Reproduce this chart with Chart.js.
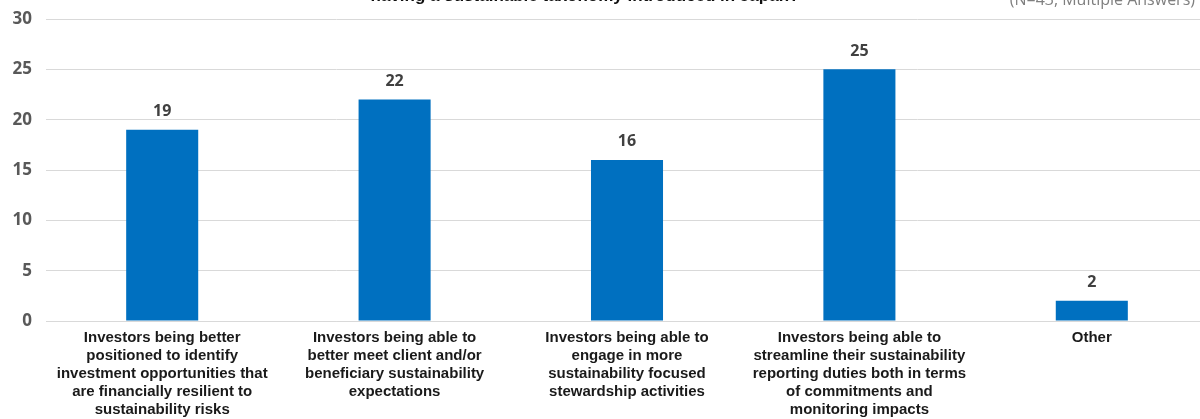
<!DOCTYPE html>
<html>
<head>
<meta charset="utf-8">
<script src="https://cdn.jsdelivr.net/npm/chart.js@4.4.1/dist/chart.umd.min.js"></script>
<style>
  html, body { margin: 0; padding: 0; background: #fff; overflow: hidden; }
  #wrap { position: relative; width: 1215px; height: 419px; }
</style>
</head>
<body>
<div id="wrap"><canvas id="canvas_chart01"></canvas></div>
<script>
const categories = [
    ['Investors being better', 'positioned to identify', 'investment opportunities that', 'are financially resilient to', 'sustainability risks'],
    ['Investors being able to', 'better meet client and/or', 'beneficiary sustainability', 'expectations'],
    ['Investors being able to', 'engage in more', 'sustainability focused', 'stewardship activities'],
    ['Investors being able to', 'streamline their sustainability', 'reporting duties both in terms', 'of commitments and', 'monitoring impacts'],
    ['Other']
];
const answers = [19, 22, 16, 25, 2];
const yTicks = [0, 5, 10, 15, 20, 25, 30];

const titleText = 'having a sustainable taxonomy introduced in Japan?';
const noteText = '(N=43, Multiple Answers)';

// value labels above bars + the title line / sample note at the top
const annotate = {
    id: 'annotate',
    afterDatasetsDraw(chart) {
        const ctx = chart.ctx;
        ctx.save();
        ctx.textAlign = 'center';
        ctx.textBaseline = 'bottom';
        ctx.fillStyle = '#404040';
        ctx.font = 'bold 16px "Open Sans"';
        chart.getDatasetMeta(0).data.forEach((bar, i) => {
            ctx.fillText(answers[i], bar.x, bar.y - 10);
        });

        ctx.fillStyle = '#111';
        ctx.font = 'bold 17px "Liberation Sans"';
        ctx.fillText(titleText, 585, 5);

        ctx.textAlign = 'right';
        ctx.fillStyle = '#7f7f7f';
        ctx.font = '16px "Open Sans"';
        ctx.fillText(noteText, 1195, 8);
        ctx.restore();
    }
};

new Chart(document.getElementById('canvas_chart01'), {
    type: 'bar',
    data: {
        labels: categories,
        datasets: [{
            data: answers,
            backgroundColor: '#0070C0',
            barPercentage: 1,
            categoryPercentage: 0.31
        }]
    },
    options: {
        responsive: true,
        maintainAspectRatio: false,
        animation: false,
        layout: { padding: { top: 19, right: 7, bottom: 0, left: 0 } },
        plugins: {
            legend: { display: false },
            tooltip: { enabled: false }
        },
        scales: {
            y: {
                min: 0,
                max: 30,
                afterFit: (scale) => {
                    scale.width = 46;
                    scale.paddingTop = 0;
                    scale.paddingBottom = 0;
                },
                afterBuildTicks: (scale) => { scale.ticks = yTicks.map(v => ({ value: v })); },
                grid: { color: '#d9d9d9', drawTicks: false },
                border: { display: false },
                ticks: {
                    padding: 14,
                    color: '#595959',
                    font: { family: 'Open Sans', size: 17, weight: 'bold' }
                }
            },
            x: {
                afterFit: (scale) => { scale.height = 98; },
                grid: { display: false, drawTicks: false },
                border: { color: '#d9d9d9', width: 1 },
                ticks: {
                    padding: 8,
                    maxRotation: 0,
                    autoSkip: false,
                    color: '#1a1a1a',
                    font: { family: 'Liberation Sans', size: 15, weight: 'bold', lineHeight: 1.2 }
                }
            }
        }
    },
    plugins: [annotate]
});
</script>
</body>
</html>
